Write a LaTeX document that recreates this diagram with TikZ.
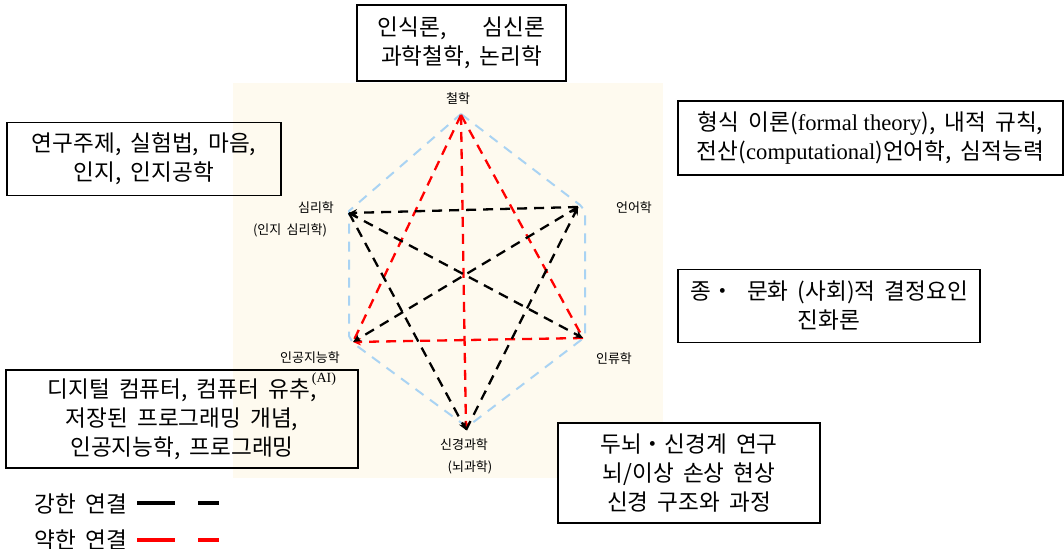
\documentclass[tikz,border=0pt]{standalone}
\usepackage{fontspec}
\setmainfont{Liberation Serif}
\newfontfamily\kr[WordSpace=1.8]{Noto Sans CJK KR}
\usetikzlibrary{arrows.meta}

\definecolor{cream}{HTML}{FEFAEF}
\definecolor{hexblue}{HTML}{A9D3F3}

\begin{document}
\begin{tikzpicture}[x=0.5pt, y=-0.5pt, >={Stealth[length=4pt,width=3.6pt]},
    box/.style={draw, line width=0.8pt, align=center, inner sep=0pt,
        font=\kr\fontsize{11.3}{14.5}\selectfont},
    vlabel/.style={font=\kr\fontsize{6.5}{8}\selectfont, inner sep=0pt},
    strong/.style={line width=1.15pt, dash pattern=on 5pt off 3.5pt},
    weak/.style={strong, red},
    hexline/.style={hexblue, line width=1pt, dash pattern=on 5pt off 4pt}]
    \useasboundingbox (0,0) rectangle (1064,549);
    \fill[cream] (233,83) rectangle (663,478);

    % vertices
    \coordinate (phil) at (461,115);
    \coordinate (psy) at (349,213);
    \coordinate (ling) at (578,207);
    \coordinate (ai) at (353,342);
    \coordinate (anth) at (583,338);
    \coordinate (neuro) at (466,430);

    % outline
    \draw[hexline] (461,114) -- (580,205) -- (585,211) -- (585,337) -- (467,427)
        -- (353,343) -- (349,336) -- (349,211) -- cycle;

    % weak links
    \draw[weak] (phil) -- (ai);
    \draw[weak] (phil) -- (anth);
    \draw[weak, ->] (phil) -- (neuro);
    \draw[weak, ->] (anth) -- (ai);

    % strong links
    \draw[strong, ->] (ling) -- (psy);
    \draw[strong, ->] (psy) -- (anth);
    \draw[strong, ->] (psy) -- (neuro);
    \draw[strong, ->] (ling) -- (ai);
    \draw[strong, ->] (neuro) -- (ling);

    % labels
    \node[vlabel] (philLbl) at (458,99) {철학};
    \node[vlabel] (psyLbl) at (316,208) {심리학};
    \node[vlabel] (psySub) at (290,230) {(인지 심리학)};
    \node[vlabel] (lingLbl) at (634,208) {언어학};
    \node[vlabel] (aiLbl) at (310,358) {인공지능학};
    \node[inner sep=0pt, font=\fontsize{7}{8}\selectfont] (aiSub) at (324,379) {(AI)};
    \node[vlabel] (anthLbl) at (614,359) {인류학};
    \node[vlabel] (neuroLbl) at (464,445) {신경과학};
    \node[vlabel] (neuroSub) at (470,467) {(뇌과학)};

    % boxes
    \node[box, minimum width=104.5pt, minimum height=38pt] (philBox) at (461.5,43)
        {인식론,\hspace{1.6em}심신론\\과학철학, 논리학};
    \node[box, minimum width=137pt, minimum height=36.5pt] (psyBox) at (144,159)
        {연구주제, 실험법, 마음,\\인지, 인지공학};
    \node[box, minimum width=192.5pt, minimum height=37pt] (lingBox) at (870.5,138)
        {형식 이론({\rmfamily formal theory}), 내적 규칙,\\전산({\rmfamily computational})언어학, 심적능력};
    \node[box, minimum width=151pt, minimum height=36.5pt] (anthBox) at (829,306)
        {종・\hspace{0.6em}문화 (사회)적 결정요인\\진화론};
    \node[box, minimum width=176pt, minimum height=49pt] (aiBox) at (182,419)
        {디지털 컴퓨터, 컴퓨터 유추,\\저장된 프로그래밍 개념,\\인공지능학, 프로그래밍};
    \node[box, fill=white, minimum width=131pt, minimum height=50pt] (neuroBox) at (689,473)
        {두뇌・신경계 연구\\뇌/이상 손상 현상\\신경 구조와 과정};

    % legend
    \node[font=\kr\fontsize{11.3}{12}\selectfont, inner sep=0pt] (strongLbl) at (81,504) {강한 연결};
    \node[font=\kr\fontsize{11.3}{12}\selectfont, inner sep=0pt] (weakLbl) at (81,540) {약한 연결};
    \draw[line width=2pt] (137,503) -- (175,503);
    \draw[line width=2pt] (198,503) -- (219,503);
    \draw[red, line width=2pt] (137,540) -- (175,540);
    \draw[red, line width=2pt] (198,540) -- (219,540);
\end{tikzpicture}
\end{document}
